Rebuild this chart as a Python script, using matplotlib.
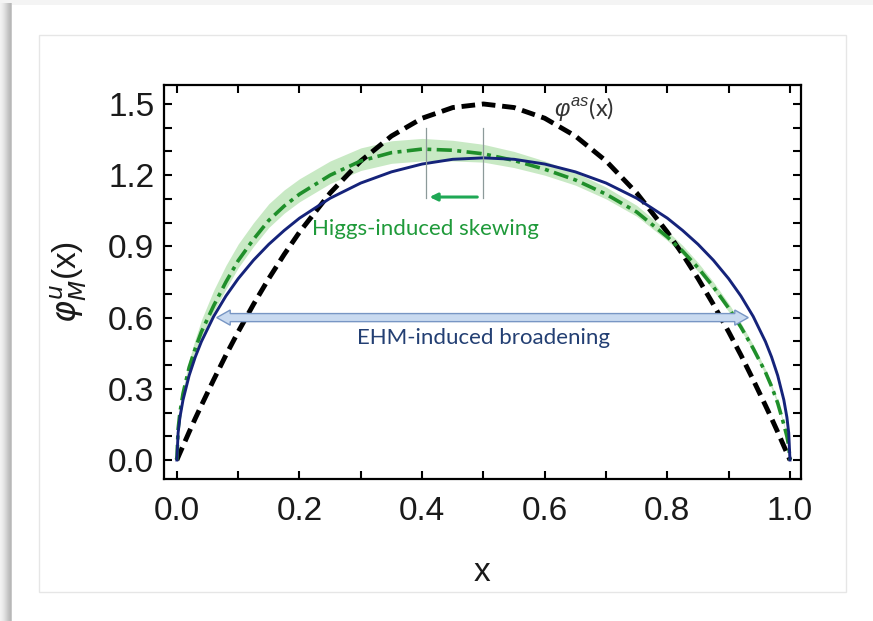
import matplotlib
matplotlib.use("Agg")
import matplotlib.pyplot as plt
from matplotlib.patches import Rectangle, Polygon
from matplotlib.ticker import MultipleLocator, FormatStrFormatter

# ---------------- data ----------------
x = [0, 0.002, 0.005, 0.01, 0.02, 0.03, 0.04, 0.06, 0.08, 0.10, 0.125, 0.15, 0.175, 0.2,
     0.25, 0.3, 0.35, 0.4, 0.45, 0.5, 0.55, 0.6, 0.65, 0.7, 0.75, 0.8, 0.825, 0.85, 0.875,
     0.9, 0.92, 0.94, 0.96, 0.97, 0.98, 0.99, 0.995, 0.998, 1.0]

phi_as = [0, 0.012, 0.030, 0.059, 0.118, 0.175, 0.230, 0.338, 0.442, 0.540, 0.656, 0.765,
          0.866, 0.960, 1.125, 1.260, 1.365, 1.440, 1.485, 1.500, 1.485, 1.440, 1.365, 1.260,
          1.125, 0.960, 0.866, 0.765, 0.656, 0.540, 0.442, 0.338, 0.230, 0.175, 0.118, 0.059,
          0.030, 0.012, 0]

phi_pion = [0, 0.114, 0.180, 0.253, 0.356, 0.434, 0.499, 0.605, 0.691, 0.764, 0.842, 0.909,
            0.967, 1.019, 1.103, 1.167, 1.214, 1.247, 1.267, 1.273, 1.267, 1.247, 1.214, 1.167,
            1.103, 1.019, 0.967, 0.909, 0.842, 0.764, 0.691, 0.605, 0.499, 0.434, 0.356, 0.253,
            0.180, 0.114, 0]

phi_kaon = [0, 0.13, 0.20, 0.28, 0.39, 0.47, 0.54, 0.65, 0.75, 0.84, 0.93, 1.01, 1.07, 1.12,
            1.20, 1.26, 1.295, 1.31, 1.305, 1.29, 1.262, 1.225, 1.18, 1.12, 1.045, 0.94, 0.88,
            0.81, 0.73, 0.64, 0.56, 0.47, 0.37, 0.31, 0.24, 0.15, 0.10, 0.06, 0]

kaon_upper = [0, 0.14, 0.215, 0.30, 0.42, 0.51, 0.59, 0.715, 0.82, 0.91, 1.00, 1.08, 1.138,
              1.185, 1.26, 1.315, 1.345, 1.355, 1.347, 1.33, 1.30, 1.26, 1.212, 1.15, 1.073,
              0.965, 0.904, 0.832, 0.751, 0.66, 0.578, 0.486, 0.383, 0.321, 0.249, 0.156,
              0.104, 0.062, 0]

kaon_lower = [0, 0.125, 0.192, 0.27, 0.375, 0.45, 0.52, 0.625, 0.72, 0.81, 0.90, 0.98, 1.04,
              1.088, 1.165, 1.22, 1.25, 1.26, 1.26, 1.255, 1.232, 1.20, 1.158, 1.10, 1.027,
              0.925, 0.865, 0.795, 0.715, 0.625, 0.547, 0.458, 0.36, 0.301, 0.232, 0.144,
              0.096, 0.058, 0]

xticks = [0.0, 0.2, 0.4, 0.6, 0.8, 1.0]
yticks = [0.0, 0.3, 0.6, 0.9, 1.2, 1.5]

# ---------------- figure ----------------
W, H = 873, 621
fig = plt.figure(figsize=(W / 100, H / 100), dpi=100, facecolor="#f4f4f4")

def fig_rect(x0, y0, w, h, **kw):
    # pixel coords from top-left
    r = Rectangle((x0 / W, 1 - (y0 + h) / H), w / W, h / H, transform=fig.transFigure, **kw)
    fig.patches.append(r)
    return r

# left shadow gradient
shades = ["#f2f2f2", "#efefef", "#ebebeb", "#e6e6e6", "#e0e0e0", "#d9d9d9", "#d2d2d2",
          "#cacaca", "#c3c3c3", "#bdbdbd", "#b8b8b8", "#c8c8c8"]
for i, c in enumerate(shades):
    fig_rect(i, 3, 1, H - 3, facecolor=c, edgecolor="none", zorder=-10)
# card
fig_rect(12, 5, W - 12, H - 5, facecolor="white", edgecolor="none", zorder=-9)
# inner frame
fig_rect(39, 35, 807, 557, facecolor="white", edgecolor="#e6e6e6", lw=1.0, zorder=-8)

ax = fig.add_axes([164 / W, 1 - 479 / H, 637 / W, 394 / H])
ax.set_facecolor("white")

sans = ["Liberation Sans", "DejaVu Sans"]
plt.rcParams["mathtext.fontset"] = "custom"
plt.rcParams["mathtext.rm"] = "Liberation Sans"
plt.rcParams["mathtext.it"] = "Liberation Sans:italic"

# band
ax.fill_between(x, kaon_lower, kaon_upper, color="#b6e2b0", alpha=0.75, lw=0, zorder=1)
# asymptotic
ax.plot(x, phi_as, color="black", lw=3.5, dashes=(2.8, 1.4), zorder=3)
# kaon (green dash-dot)
ax.plot(x, phi_kaon, color="#1f8f2a", lw=2.6, dashes=(4.2, 1.5, 1.1, 1.5), zorder=4)
# pion (navy solid)
ax.plot(x, phi_pion, color="#15237a", lw=2.1, zorder=5)

# skewing marker lines and arrow
for xv in (0.406, 0.50):
    ax.plot([xv, xv], [1.105, 1.40], color="#8c9a9a", lw=0.9, zorder=6)
ax.annotate("", xy=(0.412, 1.108), xytext=(0.49, 1.108),
            arrowprops=dict(arrowstyle="-|>,head_length=0.45,head_width=0.22",
                            color="#1fa855", lw=2.2, shrinkA=0, shrinkB=0), zorder=7)
ax.text(0.405, 0.975, "Higgs-induced skewing", color="#1f9a3a", fontsize=16,
        family=["Lato", "DejaVu Sans"], ha="center", va="center", zorder=7)

# broadening double arrow (block arrow)
xa, xb, y0 = 0.065, 0.932, 0.60
hl, hh, sh = 0.022, 0.032, 0.017
poly = [(xa, y0), (xa + hl, y0 + hh), (xa + hl, y0 + sh), (xb - hl, y0 + sh),
        (xb - hl, y0 + hh), (xb, y0), (xb - hl, y0 - hh), (xb - hl, y0 - sh),
        (xa + hl, y0 - sh), (xa + hl, y0 - hh)]
ax.add_patch(Polygon(poly, closed=True, facecolor="#c9daf0", edgecolor="#7896c4", lw=1.0,
                     zorder=6))
ax.text(0.50, 0.512, "EHM-induced broadening", color="#233f73", fontsize=16,
        family=["Lato", "DejaVu Sans"], ha="center", va="center", zorder=7)

# phi^as label
ax.text(0.615, 1.48, r"$\varphi^{as}$(x)", color="#333333", fontsize=17,
        family=["Lato", "DejaVu Sans"], ha="left", va="center", zorder=7)

# axes styling
ax.set_xlim(-0.021, 1.018)
ax.set_ylim(-0.08, 1.58)
ax.set_xticks(xticks)
ax.set_yticks(yticks)
ax.xaxis.set_minor_locator(MultipleLocator(0.1))
ax.yaxis.set_minor_locator(MultipleLocator(0.1))
ax.xaxis.set_major_formatter(FormatStrFormatter("%.1f"))
ax.yaxis.set_major_formatter(FormatStrFormatter("%.1f"))
ax.tick_params(which="both", direction="in", top=True, right=True, length=6, width=1.5,
               color="black")
ax.tick_params(which="major", labelsize=24, pad=7)
ax.tick_params(axis="x", which="major", pad=12)
for lab in ax.get_xticklabels() + ax.get_yticklabels():
    lab.set_family(sans)
    lab.set_color("#1a1a1a")
for s in ax.spines.values():
    s.set_linewidth(1.6)

ax.set_xlabel("x", fontsize=24, family=sans, labelpad=22, color="#1a1a1a")
ax.set_ylabel(r"$\varphi^{u}_{M}$(x)", fontsize=24, family=sans, labelpad=14, color="#1a1a1a")

fig.savefig("out.png", dpi=100, facecolor=fig.get_facecolor())
